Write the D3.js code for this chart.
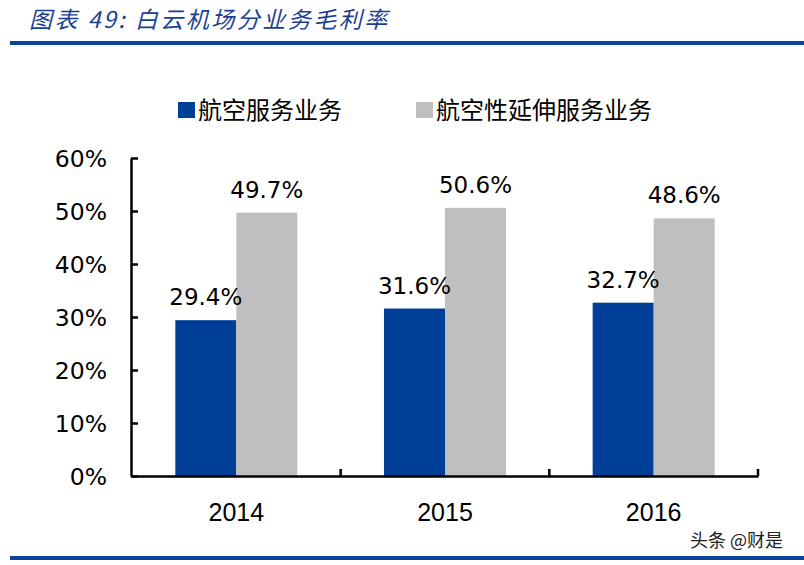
<html>
<head>
<meta charset="utf-8">
<script src="https://d3js.org/d3.v7.min.js"></script>
<style>
  body { margin: 0; background: #fff; }
  svg text { font-family: "DejaVu Sans", Verdana, sans-serif; }
</style>
</head>
<body>
<div id="chart"></div>
<script>
// data
var years = ["2014", "2015", "2016"];
var seriesNames = ["航空服务业务", "航空性延伸服务业务"];
var aviation = [0.294, 0.316, 0.327];
var extended = [0.497, 0.506, 0.486];
var yTicks = [0, 0.1, 0.2, 0.3, 0.4, 0.5, 0.6];
var colors = ["#003f98", "#bfbfbf"];

var W = 804, H = 565;
var svg = d3.select("#chart").append("svg")
    .attr("width", W).attr("height", H);

// title + rules
svg.append("text")
    .attr("x", 29).attr("y", 28)
    .attr("fill", "#1c3f94")
    .style("font-family", "'Noto Sans CJK SC', sans-serif")
    .style("font-style", "italic")
    .style("font-size", "23px")
    .style("letter-spacing", "2.5px")
    .text("图表 49:  白云机场分业务毛利率");

svg.append("rect").attr("x", 10).attr("y", 41).attr("width", W - 10).attr("height", 4).attr("fill", "#0b449c");
svg.append("rect").attr("x", 10).attr("y", 556).attr("width", W - 10).attr("height", 4).attr("fill", "#0b449c");

svg.append("text")
    .attr("x", 30).attr("y", 584)
    .attr("fill", "#1c3f94")
    .style("font-family", "'Noto Sans CJK SC', sans-serif")
    .style("font-size", "20px")
    .text("资料来源：公司公告，广发证券发展研究中心");

// scales
var x0 = d3.scaleBand().domain(years).range([132, 758]).paddingInner(0).paddingOuter(0);
var x1 = d3.scaleBand().domain(seriesNames).range([0, x0.bandwidth()]).paddingInner(0).paddingOuter(0.71);
var y = d3.scaleLinear().domain([0, 0.6]).range([476, 158]);

// y axis
var yAxis = svg.append("g")
    .attr("transform", "translate(131,0)")
    .call(d3.axisLeft(y).tickValues(yTicks).tickFormat(d3.format(".0%"))
        .tickSizeInner(-7).tickSizeOuter(0).tickPadding(24));
yAxis.select(".domain").attr("stroke", "#000").attr("stroke-width", 2.5);
yAxis.selectAll(".tick line").attr("stroke", "#000").attr("stroke-width", 2.5);
yAxis.selectAll(".tick text")
    .attr("fill", "#000")
    .style("font-size", "23.5px")
    .attr("dy", "0.36em");

// bars
var rows = years.map(function (yr, i) {
  return { year: yr, vals: [aviation[i], extended[i]] };
});

var groups = svg.selectAll(".grp").data(rows).enter().append("g")
    .attr("class", "grp")
    .attr("transform", function (d) { return "translate(" + x0(d.year) + ",0)"; });

groups.selectAll("rect").data(function (d) { return d.vals; }).enter().append("rect")
    .attr("x", function (d, i) { return x1(seriesNames[i]); })
    .attr("y", function (d) { return y(d); })
    .attr("width", x1.bandwidth())
    .attr("height", function (d) { return y(0) - y(d); })
    .attr("fill", function (d, i) { return colors[i]; });

groups.selectAll(".lbl").data(function (d) { return d.vals; }).enter().append("text")
    .attr("class", "lbl")
    .attr("x", function (d, i) { return x1(seriesNames[i]) + x1.bandwidth() / 2; })
    .attr("y", function (d) { return y(d) - 15; })
    .attr("text-anchor", "middle")
    .attr("fill", "#000")
    .style("font-size", "23px")
    .text(function (d) { return d3.format(".1%")(d); });

// x axis
var xAxis = svg.append("g")
    .attr("transform", "translate(0,476)")
    .call(d3.axisBottom(x0).tickSize(0).tickPadding(27));
xAxis.select(".domain").attr("stroke", "#000").attr("stroke-width", 2.5);
xAxis.selectAll(".tick text")
    .attr("fill", "#000")
    .style("font-family", "'Liberation Sans', Arial, sans-serif")
    .style("font-size", "25px");

svg.selectAll(".sep").data(years).enter().append("line")
    .attr("class", "sep")
    .attr("x1", function (d) { return x0(d) + x0.bandwidth(); })
    .attr("x2", function (d) { return x0(d) + x0.bandwidth(); })
    .attr("y1", 476).attr("y2", 469)
    .attr("stroke", "#000").attr("stroke-width", 2.5);

// legend
var legX = [178, 416];
var leg = svg.selectAll(".leg").data(seriesNames).enter().append("g")
    .attr("class", "leg")
    .attr("transform", function (d, i) { return "translate(" + legX[i] + ",102)"; });
leg.append("rect").attr("width", 17).attr("height", 16)
    .attr("fill", function (d, i) { return colors[i]; });
leg.append("text")
    .attr("x", 20).attr("y", 8).attr("dy", "0.36em")
    .attr("fill", "#000")
    .style("font-family", "'Noto Sans CJK SC', sans-serif")
    .style("font-size", "24px")
    .text(function (d) { return d; });

// watermark
svg.append("text")
    .attr("x", 783).attr("y", 547)
    .attr("text-anchor", "end")
    .attr("fill", "#222")
    .style("font-family", "'Noto Sans CJK SC', sans-serif")
    .style("font-size", "18px")
    .text("头条 @财是");
</script>
</body>
</html>
